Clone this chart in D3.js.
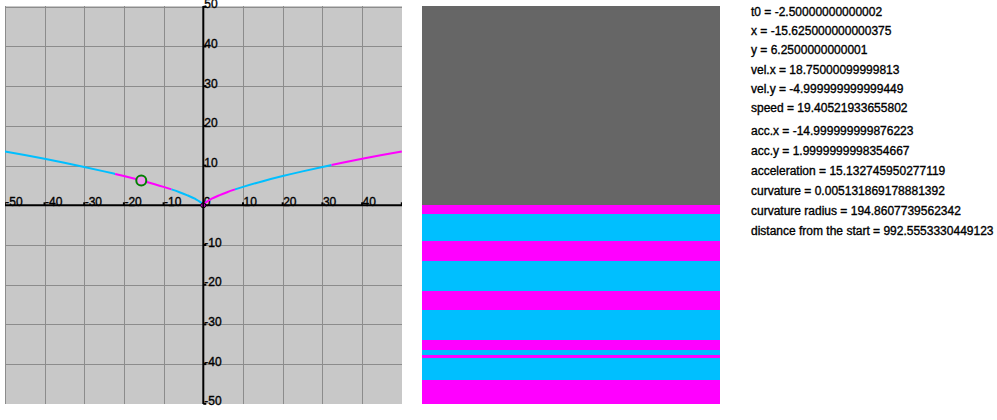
<!DOCTYPE html>
<html>
<head>
<meta charset="utf-8">
<script src="https://cdn.jsdelivr.net/npm/d3@7"></script>
<style>
  body { margin: 0; background: #fff; }
  text { font-family: "Liberation Sans", Arial, sans-serif; stroke: #000; stroke-width: 0.35px; }
</style>
</head>
<body>
<svg id="chart"></svg>
<script>
// curve points (x, y)
const curveX = [-50, -45, -40, -35, -30, -25, -22.2, -20, -15, -10, -8, -6, -4, -2, -1, -0.3, 0,
                0.3, 1, 2, 4, 6, 8, 10, 15, 20, 25, 30, 32.3, 35, 40, 45, 50];
const curveY = [13.57, 12.65, 11.70, 10.70, 9.65, 8.55, 7.90, 7.37, 6.08, 4.64, 4.00, 3.30, 2.52, 1.59, 1.00, 0.45, 0,
                0.45, 1.00, 1.59, 2.52, 3.30, 4.00, 4.64, 6.08, 7.37, 8.55, 9.65, 10.14, 10.70, 11.70, 12.65, 13.57];

// coloured pieces of the curve, by x range
const segStart = [-50, -22.2, -8, 0, 8, 32.3];
const segEnd = [-22.2, -8, 0, 8, 32.3, 50];
const segColor = ["#00bfff", "#ff00ff", "#00bfff", "#ff00ff", "#00bfff", "#ff00ff"];

// current point
const pointX = -15.625;
const pointY = 6.25;

const axisTicks = [-50, -40, -30, -20, -10, 0, 10, 20, 30, 40, 50];

// stripes of the middle bar, in percent of its height from the top
const stripeStart = [0, 50.1, 52.4, 59.2, 64.2, 71.7, 76.6, 83.9, 86.6, 87.9, 88.6, 94.2];
const stripeEnd = [50.1, 52.4, 59.2, 64.2, 71.7, 76.6, 83.9, 86.6, 87.9, 88.6, 94.2, 100];
const stripeColor = ["#666666", "#ff00ff", "#00bfff", "#ff00ff", "#00bfff", "#ff00ff",
                     "#00bfff", "#ff00ff", "#00bfff", "#ff00ff", "#00bfff", "#ff00ff"];

// read-out lines, in two blocks (position/velocity, then acceleration/curvature)
const infoLines = [
  "t0 = -2.50000000000002",
  "x = -15.625000000000375",
  "y = 6.2500000000001",
  "vel.x = 18.75000099999813",
  "vel.y = -4.999999999999449",
  "speed = 19.40521933655802",
  "acc.x = -14.999999999876223",
  "acc.y = 1.9999999998354667",
  "acceleration = 15.132745950277119",
  "curvature = 0.005131869178881392",
  "curvature radius = 194.8607739562342",
  "distance from the start = 992.5553330449123"
];

const svg = d3.select("#chart").attr("width", 997).attr("height", 420);

// ---- left plot ----
const plot = {left: 4.8, right: 401.8, top: 6.8, bottom: 403.8};
const xScale = d3.scaleLinear().domain([-50, 50]).range([plot.left, plot.right]);
const yScale = d3.scaleLinear().domain([50, -50]).range([plot.top, plot.bottom]);

svg.append("defs").append("clipPath").attr("id", "plotClip")
  .append("rect")
  .attr("x", 5).attr("y", 6)
  .attr("width", 397).attr("height", 398);

const left = svg.append("g");
left.append("rect")
  .attr("x", 5).attr("y", 6)
  .attr("width", 397).attr("height", 398)
  .attr("fill", "#c8c8c8");

const inner = left.append("g").attr("clip-path", "url(#plotClip)");

// grid
inner.selectAll(".vgrid")
  .data(axisTicks.filter(d => d !== 0))
  .join("line")
  .attr("class", "vgrid")
  .attr("x1", d => Math.round(xScale(d)) + 0.5).attr("x2", d => Math.round(xScale(d)) + 0.5)
  .attr("y1", plot.top - 2).attr("y2", plot.bottom + 2)
  .attr("stroke", "#8c8c8c").attr("stroke-width", 1);
inner.selectAll(".hgrid")
  .data(axisTicks.filter(d => d !== 0))
  .join("line")
  .attr("class", "hgrid")
  .attr("y1", d => Math.round(yScale(d)) + 0.5).attr("y2", d => Math.round(yScale(d)) + 0.5)
  .attr("x1", plot.left - 2).attr("x2", plot.right + 2)
  .attr("stroke", "#8c8c8c").attr("stroke-width", 1);

// axes
inner.append("line")
  .attr("x1", plot.left - 2).attr("x2", plot.right + 2)
  .attr("y1", yScale(0)).attr("y2", yScale(0))
  .attr("stroke", "#000").attr("stroke-width", 2);
left.append("line")
  .attr("y1", 6).attr("y2", 404)
  .attr("x1", xScale(0)).attr("x2", xScale(0))
  .attr("stroke", "#000").attr("stroke-width", 2);

// tick dots and labels
inner.selectAll(".xtick")
  .data(axisTicks)
  .join("rect")
  .attr("class", "xtick")
  .attr("x", d => xScale(d) - 1).attr("y", yScale(0) - 3)
  .attr("width", 2).attr("height", 3)
  .attr("fill", "#000");
inner.selectAll(".xlabel")
  .data(axisTicks)
  .join("text")
  .attr("class", "xlabel")
  .attr("x", d => xScale(d) + 0.5)
  .attr("y", yScale(0) + 0.5)
  .style("font-size", "12px")
  .attr("fill", "#000")
  .text(d => d);

left.selectAll(".ytick")
  .data(axisTicks.filter(d => d !== 0))
  .join("rect")
  .attr("class", "ytick")
  .attr("x", xScale(0)).attr("y", d => yScale(d) - 1)
  .attr("width", 3).attr("height", 2)
  .attr("fill", "#000");
left.selectAll(".ylabel")
  .data(axisTicks.filter(d => d !== 0))
  .join("text")
  .attr("class", "ylabel")
  .attr("x", xScale(0) + 1)
  .attr("y", d => yScale(d) + 1.5)
  .style("font-size", "12px")
  .attr("fill", "#000")
  .text(d => d);

// curve, one path per coloured piece
const points = curveX.map((x, i) => ({x: x, y: curveY[i]}));
const line = d3.line()
  .x(d => xScale(d.x))
  .y(d => yScale(d.y))
  .curve(d3.curveMonotoneX);

inner.selectAll(".seg")
  .data(segStart.map((s, i) => ({s: s, e: segEnd[i], c: segColor[i]})))
  .join("path")
  .attr("class", "seg")
  .attr("d", d => line(points.filter(p => p.x >= d.s && p.x <= d.e)))
  .attr("fill", "none")
  .attr("stroke", d => d.c)
  .attr("stroke-width", 2);

// origin dot
inner.append("circle")
  .attr("cx", xScale(0)).attr("cy", yScale(0))
  .attr("r", 2.5)
  .attr("fill", "#ff00ff").attr("stroke", "#000").attr("stroke-width", 1);

// current point marker
inner.append("circle")
  .attr("cx", xScale(pointX)).attr("cy", yScale(pointY))
  .attr("r", 5)
  .attr("fill", "#ee99ee")
  .attr("stroke", "#008000")
  .attr("stroke-width", 2);

// ---- middle stripe bar ----
const barScale = d3.scaleLinear().domain([0, 100]).range([6, 403.5]);
svg.append("g").selectAll("rect")
  .data(stripeStart.map((s, i) => ({s: s, e: stripeEnd[i], c: stripeColor[i]})))
  .join("rect")
  .attr("x", 421.7)
  .attr("width", 298.3)
  .attr("y", d => barScale(d.s))
  .attr("height", d => barScale(d.e) - barScale(d.s))
  .attr("fill", d => d.c)
  .attr("shape-rendering", "crispEdges");

// ---- read-out text ----
// first block of six lines, then a slightly larger gap before the second block
svg.append("g").selectAll("text")
  .data(infoLines)
  .join("text")
  .attr("x", 751)
  .attr("y", (d, i) => i < 6 ? 16 + i * 19.2 : 135 + (i - 6) * 20)
  .style("font-size", "12px")
  .attr("fill", "#000")
  .text(d => d);
</script>
</body>
</html>
